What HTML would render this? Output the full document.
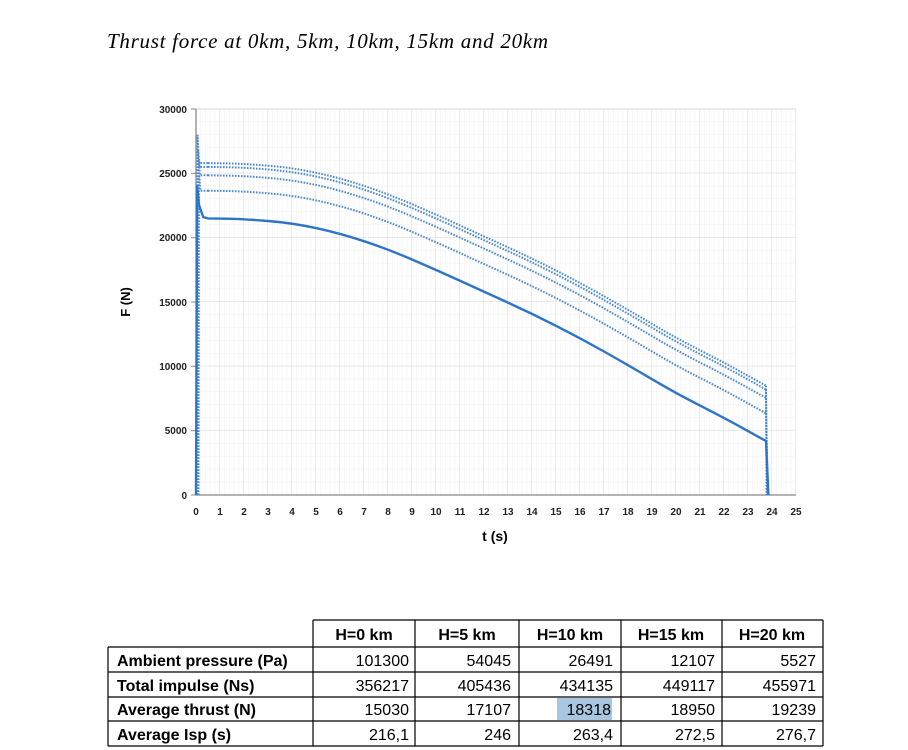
<!DOCTYPE html>
<html><head><meta charset="utf-8"><style>
body{margin:0;background:#fff;}
svg{display:block}
</style></head><body>
<svg width="908" height="750" viewBox="0 0 908 750" xmlns="http://www.w3.org/2000/svg" font-family="Liberation Sans, sans-serif">
<defs>
<pattern id="minor" x="196" y="109" width="4.8" height="12.867" patternUnits="userSpaceOnUse">
<path d="M4.8 0V12.867M0 12.867H4.8" stroke="#f0f0f0" stroke-width="1" fill="none"/>
</pattern>
<pattern id="major" x="196" y="109" width="24" height="64.333" patternUnits="userSpaceOnUse">
<path d="M24 0V64.333M0 64.333H24" stroke="#dedede" stroke-width="1.3" fill="none"/>
</pattern>
<path id="c" d="M208,218.4 L226,218.7 Q244,219 268,221 Q292,222.9 316,228.05 Q340,233.2 364,241.2 Q388,249.2 412,259.5 Q436,269.8 460,280.75 Q484,291.7 508,302.65 Q532,313.6 556,325.8 Q580,338 604,351.5 Q628,365 652,379.2 Q676,393.4 700,405.6 Q724,417.8 745,429.4 L766,441"/>
</defs>
<text x="107" y="48" font-family="Liberation Serif, serif" font-style="italic" font-size="21" textLength="441" lengthAdjust="spacing">Thrust force at 0km, 5km, 10km, 15km and 20km</text>
<rect x="196" y="109" width="600" height="386" fill="url(#minor)"/>
<rect x="196" y="109" width="600" height="386" fill="url(#major)"/>
<line x1="196" y1="109" x2="796" y2="109" stroke="#dedede" stroke-width="1.3"/>
<line x1="196" y1="109" x2="196" y2="495" stroke="#888" stroke-width="1.3"/>
<line x1="196" y1="495" x2="796" y2="495" stroke="#888" stroke-width="1.3"/>
<g stroke="#888" stroke-width="1">
<line x1="191" y1="109" x2="196" y2="109"/><line x1="191" y1="173.3" x2="196" y2="173.3"/><line x1="191" y1="237.7" x2="196" y2="237.7"/><line x1="191" y1="302" x2="196" y2="302"/><line x1="191" y1="366.3" x2="196" y2="366.3"/><line x1="191" y1="430.7" x2="196" y2="430.7"/><line x1="191" y1="495" x2="196" y2="495"/>
</g>
<g font-size="10" font-weight="bold" text-anchor="end" fill="#222">
<text x="187" y="113">30000</text><text x="187" y="177">25000</text><text x="187" y="241">20000</text><text x="187" y="306">15000</text><text x="187" y="370">10000</text><text x="187" y="434">5000</text><text x="187" y="499">0</text>
</g>
<g font-size="10" font-weight="bold" text-anchor="middle" fill="#222">
<text x="196" y="515">0</text><text x="220" y="515">1</text><text x="244" y="515">2</text><text x="268" y="515">3</text><text x="292" y="515">4</text><text x="316" y="515">5</text><text x="340" y="515">6</text><text x="364" y="515">7</text><text x="388" y="515">8</text><text x="412" y="515">9</text><text x="436" y="515">10</text><text x="460" y="515">11</text><text x="484" y="515">12</text><text x="508" y="515">13</text><text x="532" y="515">14</text><text x="556" y="515">15</text><text x="580" y="515">16</text><text x="604" y="515">17</text><text x="628" y="515">18</text><text x="652" y="515">19</text><text x="676" y="515">20</text><text x="700" y="515">21</text><text x="724" y="515">22</text><text x="748" y="515">23</text><text x="772" y="515">24</text><text x="796" y="515">25</text>
</g>
<text x="495" y="541" font-size="14" font-weight="bold" text-anchor="middle">t (s)</text>
<text transform="translate(130,302) rotate(-90)" font-size="13" font-weight="bold" text-anchor="middle">F (N)</text>
<g fill="none" stroke="#4a88d4" stroke-width="2" stroke-dasharray="1.6 1.4">
<g transform="translate(0,-55.3)"><use href="#c"/></g>
<g transform="translate(0,-51.5)"><use href="#c"/></g>
<g transform="translate(0,-43.1)"><use href="#c"/></g>
<g transform="translate(0,-27.7)"><use href="#c"/></g>
<path d="M197,495 L197.5,134.7 L199,163 L208,163.1"/>
<path d="M197.5,495 L198,150 L199.5,167 L208,166.9"/>
<path d="M198,495 L198.5,160 L200,175.3 L208,175.3"/>
<path d="M198.5,495 L199,175 L200.5,190.7 L208,190.7"/>
<path d="M766,385.7 L766.5,495 M766,389.5 L767,495 M766,397.9 L767.5,495 M766,413.3 L768,495"/>
</g>
<path d="M196,495 L197.2,186.2 L199,205 L203.2,217.1 L208,218.4 L226,218.7 Q244,219 268,221 Q292,222.9 316,228.05 Q340,233.2 364,241.2 Q388,249.2 412,259.5 Q436,269.8 460,280.75 Q484,291.7 508,302.65 Q532,313.6 556,325.8 Q580,338 604,351.5 Q628,365 652,379.2 Q676,393.4 700,405.6 Q724,417.8 745,429.4 L766,441 L768.4,495" fill="none" stroke="#2e75c8" stroke-width="2.4" stroke-linejoin="round"/>
<!-- table -->
<rect x="557" y="698" width="55" height="22" fill="#a9c6e0"/>
<g stroke="#000" stroke-width="1.2" fill="none">
<path d="M313,620H823M108,647H823M108,672H823M108,697H823M108,721H823M108,746H823"/>
<path d="M108,647V746M313,620V746M415,620V746M519,620V746M621,620V746M722,620V746M823,620V746"/>
</g>
<g font-size="16" font-weight="bold">
<text x="364" y="640" text-anchor="middle">H=0 km</text>
<text x="467" y="640" text-anchor="middle">H=5 km</text>
<text x="570" y="640" text-anchor="middle">H=10 km</text>
<text x="671" y="640" text-anchor="middle">H=15 km</text>
<text x="772" y="640" text-anchor="middle">H=20 km</text>
<text x="117" y="666">Ambient pressure (Pa)</text>
<text x="117" y="691">Total impulse (Ns)</text>
<text x="117" y="715">Average thrust (N)</text>
<text x="117" y="740">Average Isp (s)</text>
</g>
<g font-size="16" text-anchor="end">
<text x="409" y="666">101300</text><text x="511" y="666">54045</text><text x="613" y="666">26491</text><text x="715" y="666">12107</text><text x="816" y="666">5527</text>
<text x="409" y="691">356217</text><text x="511" y="691">405436</text><text x="613" y="691">434135</text><text x="715" y="691">449117</text><text x="816" y="691">455971</text>
<text x="409" y="715">15030</text><text x="511" y="715">17107</text><text x="611" y="715">18318</text><text x="715" y="715">18950</text><text x="816" y="715">19239</text>
<text x="409" y="740">216,1</text><text x="511" y="740">246</text><text x="613" y="740">263,4</text><text x="715" y="740">272,5</text><text x="816" y="740">276,7</text>
</g>
</svg>
</body></html>
